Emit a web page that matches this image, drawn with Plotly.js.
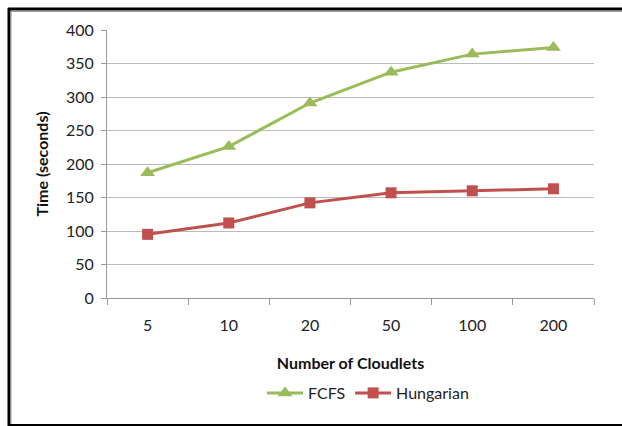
<!DOCTYPE html>
<html><head><meta charset="utf-8">
<script src="https://cdn.plot.ly/plotly-3.0.1.min.js"></script>
<style>html,body{margin:0;padding:0;background:#fff;}#chart{width:622px;height:426px;}</style>
</head><body><div id="chart"></div>
<script>
const categories = ["5", "10", "20", "50", "100", "200"];
const fcfs = [187, 226, 291, 337, 364, 374];
const hungarian = [95, 112, 142, 157, 160, 163];
const yTicks = [0, 50, 100, 150, 200, 250, 300, 350, 400];

const font = "Lato, Open Sans, sans-serif";
const traces = [
  {x: categories, y: fcfs, name: "FCFS", type: "scatter", mode: "lines+markers",
   line: {color: "#9BBB59", width: 3}, marker: {symbol: "triangle-up", size: 13, color: "#9BBB59"}},
  {x: categories, y: hungarian, name: "Hungarian", type: "scatter", mode: "lines+markers",
   line: {color: "#C0504D", width: 3}, marker: {symbol: "square", size: 11, color: "#C0504D"}}
];
const W = 487, H = 268, L = 107, T = 30;
const px = v => (v - L) / W, py = v => (T + H - v) / H;
const layout = {
  width: 622, height: 426,
  margin: {l: L, r: 622 - L - W, t: T, b: 426 - T - H},
  paper_bgcolor: "#fff", plot_bgcolor: "#fff",
  font: {family: font, size: 16, color: "#222"},
  showlegend: true,
  legend: {orientation: "h", x: px(368), xanchor: "center", y: py(393), yanchor: "middle",
           font: {size: 16, color: "#222"}, itemwidth: 36},
  xaxis: {type: "category", range: [-0.5, 5.5], showgrid: false, showline: true, linecolor: "#999", linewidth: 1,
          ticks: "outside", tickson: "boundaries", ticklen: 6, tickcolor: "#999",
          tickfont: {size: 16, color: "#222"}, ticklabelstandoff: 13,
          title: {text: "<b>Number of Cloudlets</b>", font: {size: 16, color: "#111"}, standoff: 24}},
  yaxis: {range: [0, 400], tickvals: yTicks, showgrid: true, gridcolor: "#bbb", gridwidth: 1,
          showline: true, linecolor: "#999", ticks: "outside", ticklen: 5, tickcolor: "#999",
          tickfont: {size: 16, color: "#222"}, zeroline: false, ticklabelstandoff: 4,
          title: {text: "<b>Time (seconds)</b>", font: {size: 16, color: "#111"}, standoff: 13}},
  shapes: [
    {type: "line", xref: "paper", yref: "paper", x0: px(9), x1: px(9), y0: py(8), y1: py(426), line: {color: "#000", width: 3}},
    {type: "line", xref: "paper", yref: "paper", x0: px(11), x1: px(11), y0: py(11), y1: py(424), line: {color: "#999", width: 1}},
    {type: "line", xref: "paper", yref: "paper", x0: px(8), x1: px(622), y0: py(9), y1: py(9), line: {color: "#000", width: 3}},
    {type: "line", xref: "paper", yref: "paper", x0: px(11), x1: px(622), y0: py(11.5), y1: py(11.5), line: {color: "#999", width: 1}},
    {type: "line", xref: "paper", yref: "paper", x0: px(8), x1: px(622), y0: py(425), y1: py(425), line: {color: "#000", width: 2}}
  ]
};
Plotly.newPlot("chart", traces, layout, {displayModeBar: false, staticPlot: true});
</script></body></html>
